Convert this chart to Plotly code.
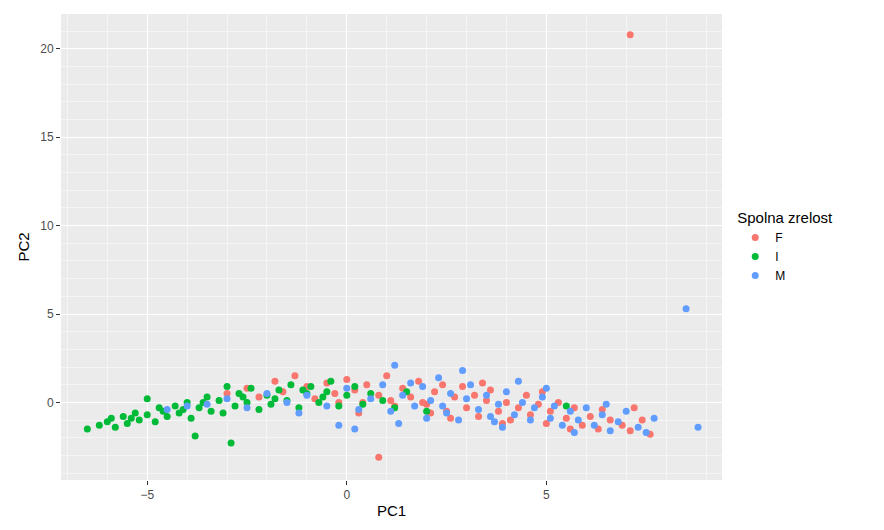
import plotly.graph_objects as go

f_x = [-3.0, -2.5, -2.2, -1.8, -1.6, -1.3, -1.0, -0.8, -0.5, -0.3, 0.0, 0.2, 0.4, 0.5, 0.8, 1.0, 1.2, 1.4, 1.6, 1.8,
       2.0, 2.2, 2.4, 2.5, 2.7, 2.9, 3.0, 3.2, 3.3, 3.5, 3.6, 3.8, 4.0, 4.1, 4.3, 4.5, 4.6, 4.8, 5.0, 5.1,
       5.3, 5.5, 5.7, 5.9, 6.1, 6.3, 6.6, 6.9, 7.1, 7.2, 7.4, 7.6, 7.1, 0.8, 1.9, 2.6, 3.4, 1.1, 0.3, 4.9,
       5.6, 6.4, 3.9, 2.1, -0.2]
f_y = [0.5, 0.8, 0.3, 1.2, 0.6, 1.5, 0.9, 0.2, 1.1, 0.5, 1.3, 0.7, 0.0, 1.0, 0.4, 1.5, -0.2, 0.8, 0.3, 1.2,
       -0.1, 0.6, 1.0, -0.5, 0.3, 0.9, -0.3, 0.4, -0.8, 0.1, 0.7, -0.5, 0.0, -1.0, -0.3, 0.4, -0.7, -0.1, -1.2, -0.5,
       0.0, -0.9, -0.3, -1.3, -0.8, -1.5, -1.0, -1.3, -1.6, -0.3, -1.0, -1.8, 20.8, -3.1, 0.0, -0.9, 1.1, 0.1, -0.6, 0.6,
       -1.5, -0.4, -1.2, -0.6, 0.0]

i_x = [-6.5, -6.0, -5.8, -5.6, -5.5, -5.3, -5.2, -5.0, -5.0, -4.8, -4.7, -4.5, -4.3, -4.2, -4.0, -3.9, -3.8, -3.7, -3.5, -3.4,
       -3.2, -3.0, -2.9, -2.8, -2.7, -2.5, -2.4, -2.2, -2.0, -1.9, -1.7, -1.5, -1.4, -1.2, -1.0, -0.9, -0.7, -0.5, -0.4, -0.2,
       0.0, 0.2, 0.4, 0.6, 0.9, 1.2, 1.5, 2.0, 5.5, -6.2, -5.9, -4.6, -3.6, -3.1, -2.6, -1.8, -1.1, -0.6, -4.1, -5.4]
i_y = [-1.5, -1.1, -1.4, -0.8, -1.2, -0.6, -1.0, 0.2, -0.7, -1.1, -0.3, -0.8, -0.2, -0.6, 0.0, -0.9, -1.9, -0.3, 0.3, -0.5,
       0.1, 0.9, -2.3, -0.2, 0.5, 0.0, 0.8, -0.4, 0.4, -0.1, 0.7, 0.1, 1.0, -0.3, 0.5, 0.9, 0.0, 0.6, 1.2, -0.2,
       0.4, 0.9, -0.1, 0.5, 0.1, -0.3, 0.6, -0.5, -0.2, -1.3, -0.9, -0.5, 0.0, -0.6, 0.3, 0.2, 0.7, 0.3, -0.4, -0.9]

m_x = [-4.5, -4.0, -3.5, -3.0, -2.5, -2.0, -1.5, -1.0, -0.5, 0.0, 0.3, 0.6, 0.9, 1.1, 1.2, 1.4, 1.7, 1.9, 2.1, 2.3,
       2.5, 2.6, 2.8, 3.0, 3.1, 3.3, 3.5, 3.7, 3.8, 4.0, 4.2, 4.4, 4.6, 4.7, 4.9, 5.1, 5.2, 5.4, 5.6, 5.8,
       6.0, 6.2, 6.4, 6.6, 6.8, 7.0, 7.3, 7.5, 7.7, 8.5, 8.8, 0.2, 1.3, -0.2, 2.0, 3.9, 5.0, 4.3, 2.9, 1.6,
       -1.2, 6.5, 5.7, 3.6, 2.4]
m_y = [-0.4, -0.2, -0.1, 0.2, -0.3, 0.5, 0.0, 0.4, -0.2, 0.8, -0.4, 0.2, 1.0, -0.5, 2.1, 0.4, -0.2, 0.9, 0.1, 1.4,
       -0.6, 0.5, -1.0, 0.2, 1.0, -0.4, 0.4, -1.1, -0.1, 0.6, -0.7, 0.0, -1.0, -0.3, 0.3, -0.9, -0.2, -1.3, -0.5, -1.0,
       -0.3, -1.3, -0.7, -1.6, -1.1, -0.5, -1.4, -1.7, -0.9, 5.3, -1.4, -1.5, -1.2, -1.3, -0.9, -1.4, 0.8, 1.2, 1.8, 1.1,
       -0.6, -0.1, -1.7, -0.8, -0.2]

groups = [("F", f_x, f_y, "#F8766D"), ("I", i_x, i_y, "#00BA38"), ("M", m_x, m_y, "#619CFF")]

fig = go.Figure()
for name, xs, ys, col in groups:
    fig.add_trace(go.Scatter(x=xs, y=ys, mode="markers", name=name,
                             marker=dict(color=col, size=7)))

fig.update_layout(
    width=884, height=530,
    margin=dict(l=53, r=170, t=6, b=58),
    plot_bgcolor="#EBEBEB", paper_bgcolor="white",
    font=dict(family="Liberation Sans, Arial", color="#4D4D4D"),
    legend=dict(title=dict(text="Spolna zrelost", font=dict(size=15, color="black")),
                x=1.02, y=0.5, yanchor="middle", bgcolor="white",
                font=dict(size=12, color="black")),
)
ax = dict(showgrid=True, gridcolor="white", gridwidth=1.2, zeroline=False,
          ticks="outside", ticklen=4, tickcolor="#333333",
          tickfont=dict(size=12, color="#4D4D4D"),
          minor=dict(showgrid=True, gridcolor="#F5F5F5", gridwidth=0.6))
fig.update_xaxes(ax, range=[-7.16, 9.4], dtick=5, tick0=0,
                 title=dict(text="PC1", font=dict(size=15, color="black"), standoff=4))
fig.update_yaxes(ax, range=[-4.39, 21.97], dtick=5, tick0=0,
                 title=dict(text="PC2", font=dict(size=15, color="black"), standoff=6))

fig.write_html("out.html")
